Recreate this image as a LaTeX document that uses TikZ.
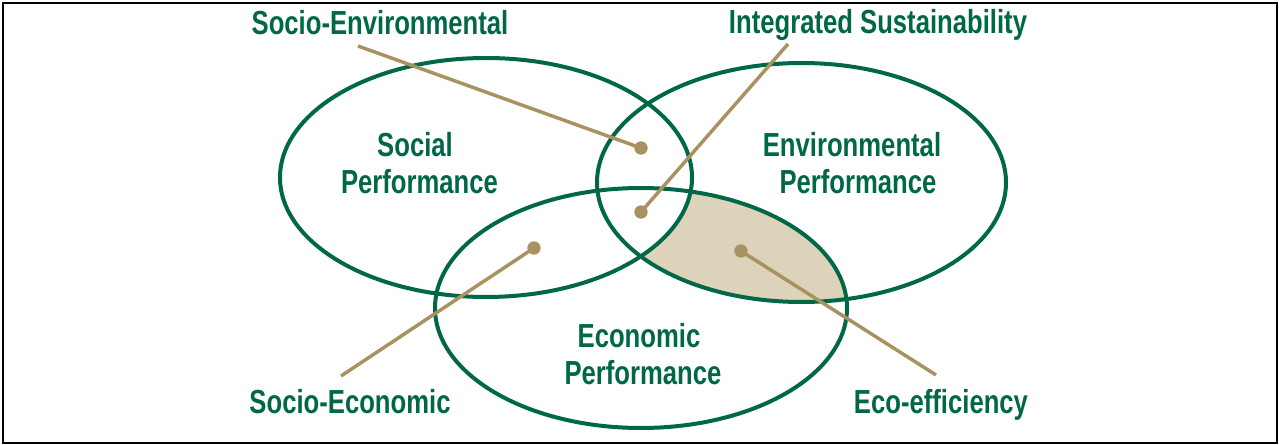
\documentclass[tikz,border=0pt]{standalone}
\usepackage{fontspec}
\newfontfamily\labfont[FakeStretch=0.77]{Liberation Sans}
\definecolor{pgreen}{RGB}{0,104,71}
\definecolor{ptan}{RGB}{168,147,96}
\definecolor{pfill}{RGB}{221,211,187}
\tikzset{
  ring/.style={draw=pgreen, line width=3pt},
  lab/.style={text=pgreen, font=\labfont\bfseries\fontsize{25}{27.75}\selectfont, inner sep=0pt, anchor=base},
  biglab/.style={lab, align=center},
  leader/.style={draw=ptan, line width=2.6pt},
  dot/.style={circle, fill=ptan, inner sep=0pt, minimum size=10pt}
}
\begin{document}
\begin{tikzpicture}[x=0.75pt,y=-0.75pt]
\useasboundingbox (0,0) rectangle (1279,445);
% outer frame
\draw[line width=1.6pt] (3,3) rectangle (1277,443);

% ellipse centres
\coordinate (soc) at (486,177.5);
\coordinate (env) at (801.5,182.5);
\coordinate (eco) at (641,308);

% eco-efficiency region: environment and economy without society
\begin{scope}
  \clip (env) ellipse [x radius=204.5, y radius=119.5];
  \clip (eco) ellipse [x radius=206, y radius=120];
  \fill[pfill, even odd rule] (0,0) rectangle (1279,445)
       (soc) ellipse [x radius=206, y radius=119.5];
\end{scope}

% the three performance ellipses
\draw[ring] (soc) ellipse [x radius=206, y radius=119.5];
\draw[ring] (env) ellipse [x radius=204.5, y radius=119.5];
\draw[ring] (eco) ellipse [x radius=206, y radius=120];

% ellipse captions
\node[lab] (socT) at (415,157) {Social};
\node[lab] (socP) at (419.5,194) {Performance};
\node[lab] (envT) at (852,157) {Environmental};
\node[lab] (envP) at (858,194) {Performance};
\node[lab] (ecoT) at (639,348) {Economic};
\node[lab] (ecoP) at (643,385) {Performance};

% overlap labels
\node[lab] (lSE) at (380,35) {Socio-Environmental};
\node[lab] (lIS) at (878,34) {Integrated Sustainability};
\node[lab] (lSC) at (350,413) {Socio-Economic};
\node[lab] (lEF) at (941,414) {Eco-efficiency};

% leader lines
\coordinate (eSE) at (358,46);
\coordinate (eIS) at (788,44);
\coordinate (eSC) at (341,376);
\coordinate (eEF) at (936,375);
\node[dot] (dSE) at (641,148) {};
\node[dot] (dIS) at (641,212) {};
\node[dot] (dSC) at (534,248) {};
\node[dot] (dEF) at (741,251) {};
\draw[leader] (eSE) -- (dSE.center);
\draw[leader] (eIS) -- (dIS.center);
\draw[leader] (eSC) -- (dSC.center);
\draw[leader] (eEF) -- (dEF.center);
\end{tikzpicture}
\end{document}
